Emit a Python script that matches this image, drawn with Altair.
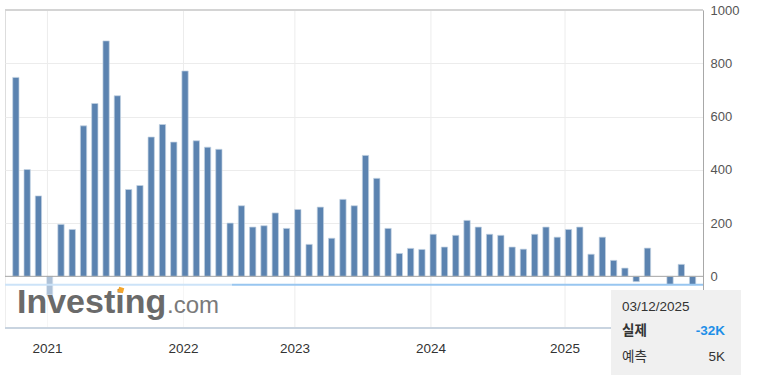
import altair as alt
import pandas as pd

# ---- data (thousands) ----
values = [747, 401, 302, -70, 195, 176, 565, 649, 884, 678, 326, 341, 523, 570, 504,
          771, 509, 485, 477, 200, 265, 185, 190, 238, 180, 251, 120, 260, 143, 289,
          265, 454, 368, 180, 86, 105, 101, 158, 110, 154, 210, 185, 158, 154, 110,
          102, 158, 185, 147, 176, 185, 83, 147, 60, 31, -20, 106, None, -30, 45, -32]
year_labels = ["2021", "2022", "2023", "2024", "2025"]
year_tick_idx = [2.80, 14.86, 24.74, 36.80, 48.69]
y_ticks = [0, 200, 400, 600, 800, 1000]
tip_date = "03/12/2025"
tip_actual_label = "실제"
tip_forecast_label = "예측"
tip_forecast = 5

FONT = "Liberation Sans, Arial, sans-serif"
KFONT = "Liberation Sans, Noto Sans CJK KR, sans-serif"
W, H = 698, 318

df = pd.DataFrame({"idx": list(range(len(values))), "val": values}).dropna()
ticks_df = pd.DataFrame({"pos": year_tick_idx, "label": year_labels})
one = pd.DataFrame({"k": [0]})

x_scale = alt.Scale(domain=[-0.52, 60.48], nice=False, zero=False)
y_scale = alt.Scale(domain=[-194, 1000], nice=False, zero=False)

grid_v = alt.Chart(ticks_df).mark_rule(color="#ececec", strokeWidth=1).encode(
    x=alt.X("pos:Q", scale=x_scale, axis=None),
    y=alt.value(0), y2=alt.value(H))

year_text = alt.Chart(ticks_df).mark_text(
    font=FONT, fontSize=13.5, color="#333333", baseline="middle", align="center"
).encode(x=alt.X("pos:Q", scale=x_scale, axis=None), y=alt.value(339), text="label:N")

bars = alt.Chart(df).mark_bar(size=6.3, color="#5b83b0", stroke="#c3d2e3", strokeWidth=0.7).encode(
    x=alt.X("idx:Q", scale=x_scale, axis=None),
    y=alt.Y("val:Q", scale=y_scale, title=None,
            axis=alt.Axis(orient="right", values=y_ticks, format="d", grid=True, gridColor="#ececec",
                          domain=True, domainColor="#a8a8a8", ticks=False, labelPadding=7,
                          labelFont=FONT, labelFontSize=13, labelColor="#555555")),
    y2=alt.datum(0))

zero_line = alt.Chart(one).mark_rule(color="#a8a8a8", strokeWidth=1).encode(
    y=alt.datum(0))

cross = alt.Chart(one).mark_rule(color="#98c6f0", strokeWidth=2).encode(
    y=alt.datum(values[-1]))

overlay = alt.Chart(one).mark_rect(color="white", opacity=0.5).encode(
    x=alt.value(0), x2=alt.value(227), y=alt.value(267), y2=alt.value(H))

logo1 = alt.Chart(one).mark_text(text="Investing", font=FONT, fontSize=34, fontWeight="bold",
                                 color="#6a6a6a", align="left", baseline="alphabetic").encode(
    x=alt.value(12), y=alt.value(303))
logo2 = alt.Chart(one).mark_text(text=".com", font=FONT, fontSize=24,
                                 color="#7a7a7a", align="left", baseline="alphabetic").encode(
    x=alt.value(162), y=alt.value(303))
logo_dot = alt.Chart(one).mark_point(shape="square", filled=True, color="#f4a62c", size=28,
                                     opacity=1, angle=15).encode(
    x=alt.value(116), y=alt.value(280))

top_border = alt.Chart(one).mark_rule(color="#d4d4d4", strokeWidth=2).encode(
    x=alt.value(0), x2=alt.value(W), y=alt.value(0))
bottom_border = alt.Chart(one).mark_rule(color="#c9d4e0", strokeWidth=2).encode(
    x=alt.value(0), x2=alt.value(W), y=alt.value(H))

tip_box = alt.Chart(one).mark_rect(color="#f0f0f0").encode(
    x=alt.value(606), x2=alt.value(736), y=alt.value(280), y2=alt.value(365))
tip1 = alt.Chart(one).mark_text(text=tip_date, font=FONT, fontSize=13.5, color="#333333",
                                align="left", baseline="middle").encode(
    x=alt.value(617), y=alt.value(296.5))
tip2 = alt.Chart(one).mark_text(text=tip_actual_label, font=KFONT, fontSize=13.5, fontWeight="bold",
                                color="#333333", align="left", baseline="middle").encode(
    x=alt.value(617), y=alt.value(321))
tip3 = alt.Chart(one).mark_text(text=f"{values[-1]}K", font=FONT, fontSize=13.5, fontWeight="bold",
                                color="#1e8fe8", align="right", baseline="middle").encode(
    x=alt.value(720), y=alt.value(321))
tip4 = alt.Chart(one).mark_text(text=tip_forecast_label, font=KFONT, fontSize=13.5,
                                color="#333333", align="left", baseline="middle").encode(
    x=alt.value(617), y=alt.value(347))
tip5 = alt.Chart(one).mark_text(text=f"{tip_forecast}K", font=FONT, fontSize=13.5,
                                color="#333333", align="right", baseline="middle").encode(
    x=alt.value(720), y=alt.value(347))

chart = alt.layer(
    grid_v, bars, zero_line, cross, overlay, logo1, logo2, logo_dot,
    top_border, bottom_border, year_text, tip_box, tip1, tip2, tip3, tip4, tip5
).properties(
    width=W, height=H, autosize="none",
    padding={"left": 5, "top": 10, "right": 62, "bottom": 53}
).configure_view(stroke="#d6d6d6", strokeWidth=1).configure(background="white")

chart.save("out.html", embed_options={"renderer": "svg", "actions": False})
